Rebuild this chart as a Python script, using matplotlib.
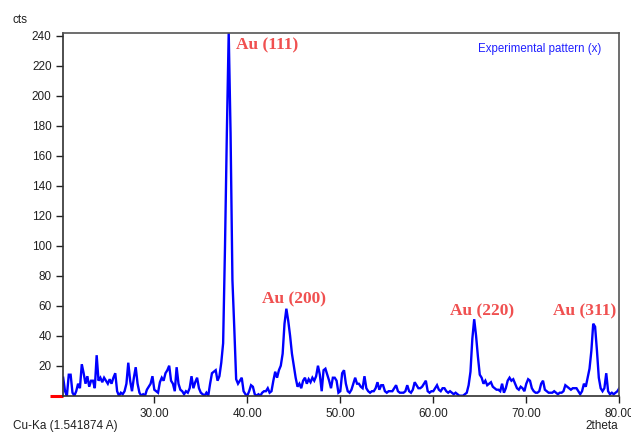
import numpy as np
import matplotlib
matplotlib.use("Agg")
import matplotlib.pyplot as plt

# 2theta grid (degrees) and measured counts
two_theta = np.round(np.arange(20.2, 80.01, 0.2), 1)
counts = [
    12, 3, 0, 14, 14, 2, 0, 3, 8, 5,
    21, 15, 8, 13, 6, 10, 10, 5, 27, 10,
    12, 9, 12, 10, 8, 11, 8, 12, 15, 3,
    0, 2, 1, 3, 8, 22, 10, 3, 12, 19,
    8, 2, 0, 1, 0, 4, 6, 8, 13, 4,
    3, 2, 9, 12, 10, 15, 17, 20, 10, 8,
    3, 19, 8, 4, 3, 1, 3, 2, 5, 13,
    5, 9, 12, 5, 2, 1, 0, 2, 0, 8,
    15, 16, 17, 10, 13, 22, 35, 99, 175, 242,
    175, 77, 45, 11, 8, 10, 12, 3, 1, 0,
    3, 7, 6, 1, 0, 1, 0, 2, 3, 3,
    5, 2, 3, 10, 16, 12, 17, 20, 28, 48,
    58, 50, 40, 28, 20, 12, 6, 8, 5, 10,
    12, 8, 11, 9, 12, 10, 13, 20, 14, 3,
    17, 18, 14, 10, 5, 12, 12, 10, 2, 3,
    15, 17, 8, 3, 2, 4, 8, 12, 8, 8,
    6, 5, 13, 5, 3, 2, 3, 3, 5, 9,
    4, 7, 7, 3, 2, 3, 3, 3, 5, 7,
    3, 2, 2, 2, 3, 7, 3, 2, 4, 9,
    7, 5, 5, 6, 8, 10, 3, 2, 3, 3,
    5, 7, 4, 3, 5, 5, 3, 2, 3, 2,
    1, 2, 1, 0, 0, 0, 1, 2, 7, 16,
    38, 51, 40, 26, 14, 12, 8, 10, 7, 8,
    9, 6, 5, 4, 4, 3, 8, 2, 5, 10,
    12, 10, 11, 8, 5, 4, 6, 5, 3, 8,
    11, 10, 5, 3, 2, 2, 3, 8, 10, 4,
    3, 2, 2, 2, 3, 2, 1, 2, 2, 3,
    7, 6, 5, 4, 5, 5, 5, 3, 1, 3,
    8, 6, 12, 18, 30, 48, 46, 30, 12, 5,
    3, 5, 15, 3, 1, 2, 1, 2, 3, 5,
]

peak_labels = ["Au (111)", "Au (200)", "Au (220)", "Au (311)"]
label_x = [38.75, 41.55, 61.85, 72.85]
label_y = [233.5, 64.0, 56.0, 56.0]

x_ticks = [30, 40, 50, 60, 70, 80]
x_tick_labels = ["30.00", "40.00", "50.00", "60.00", "70.00", "80.00"]
y_ticks = [20, 40, 60, 80, 100, 120, 140, 160, 180, 200, 220, 240]

plt.rcParams['font.family'] = ['Liberation Sans', 'DejaVu Sans']

fig = plt.figure(figsize=(6.31, 4.32), dpi=100)
ax = fig.add_axes([0.0994, 0.084, 0.882, 0.8403])

ax.plot(two_theta, counts, color='#0000ff', lw=1.7, solid_joinstyle='miter')
ax.set_xlim(20.15, 80.0)
ax.set_ylim(0, 242)

ax.set_xticks(x_ticks)
ax.set_xticklabels(x_tick_labels)
ax.set_yticks(y_ticks)
ax.tick_params(axis='both', direction='out', labelsize=8.5, colors='#202020',
               length=5, width=1)
ax.tick_params(axis='x', pad=4)
ax.tick_params(axis='y', pad=3)

for s in ['left', 'bottom']:
    ax.spines[s].set_color('#303030')
    ax.spines[s].set_linewidth(1.2)
for s in ['top', 'right']:
    ax.spines[s].set_color('#555555')
    ax.spines[s].set_linewidth(1.2)

for txt, lx, ly in zip(peak_labels, label_x, label_y):
    ax.text(lx, ly, txt, color='#f05050', fontsize=12.5, fontweight='bold',
            family=['Liberation Serif', 'DejaVu Serif'], va='center', ha='left')

ax.text(0.967, 0.972, "Experimental pattern (x)", transform=ax.transAxes,
        color='#2020ff', fontsize=8.3, ha='right', va='top')

# red marker at the origin
ax.plot([-0.022, 0.0], [0.0, 0.0], transform=ax.transAxes, color='#ff0000',
        lw=2.2, clip_on=False, solid_capstyle='butt')

fig.text(20 / 631, 1 - 20 / 432, "cts", fontsize=8.5, ha='center', va='center',
         color='#202020')
fig.text(13 / 631, 1 - 426 / 432, "Cu-Ka (1.541874 A)", fontsize=8.5,
         ha='left', va='center', color='#202020')
fig.text(618 / 631, 1 - 426 / 432, "2theta", fontsize=8.5, ha='right',
         va='center', color='#202020')

fig.savefig("out.png", dpi=100)
